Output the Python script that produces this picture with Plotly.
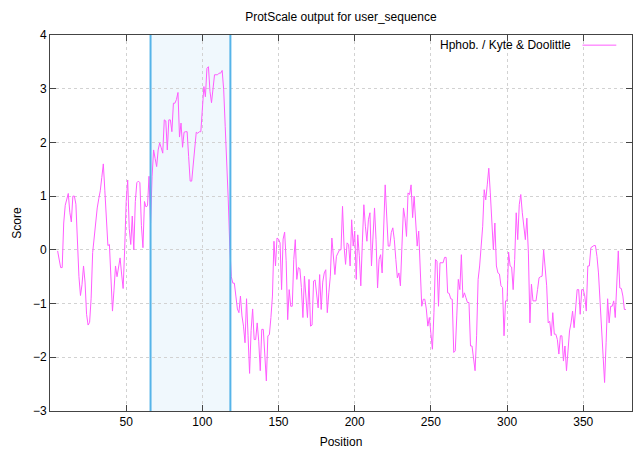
import plotly.graph_objects as go

# Data: Kyte & Doolittle hydrophobicity (window 9), positions 5..378
start_pos = 5
scores = [
    -0.02, -0.2, -0.33, -0.33, 0.5, 0.83, 0.95, 1.05, 0.7, 0.52,
    1.0, 1.0, 0.85, 0.0, -0.5, -0.85, -0.65, -0.3, -0.6, -1.2,
    -1.4, -1.35, -0.9, -0.05, 0.25, 0.5, 0.78, 0.95, 1.1, 1.35,
    1.6, 1.1, 0.6, 0.08, 0.1, -0.5, -1.14, -0.75, -0.3, -0.5,
    -0.35, -0.15, -0.45, -0.72, 0.0, 0.9, 1.3, 0.4, 0.1, 0.63,
    0.0, 0.9, 1.25, 1.28, 1.25, 0.45, 0.04, 0.9, 0.8, 0.82,
    1.37, 0.5, 1.37, 1.86, 1.7, 1.55, 1.86, 1.99, 1.9, 1.8,
    2.42, 2.4, 1.86, 2.42, 2.42, 2.2, 2.73, 2.73, 2.8, 2.93,
    2.1, 2.36, 1.91, 2.19, 2.2, 2.2, 1.74, 1.28, 1.28, 1.62,
    1.86, 2.19, 2.17, 2.2, 2.2, 2.73, 3.04, 2.85, 3.38, 3.41,
    2.95, 2.74, 2.98, 3.26, 3.26, 3.26, 3.29, 3.29, 3.34, 2.98,
    2.3, 1.68, 0.93, 0.07, -0.5, -0.62, -0.62, -0.86, -1.1, -1.17,
    -0.86, -1.23, -1.42, -1.73, -0.91, -1.6, -2.3, -1.5, -1.1, -1.67,
    -1.67, -1.36, -1.7, -2.25, -1.48, -1.48, -1.9, -2.44, -1.6, -1.58,
    -1.26, -0.86, 0.16, -0.3, 0.22, 0.2, 0.13, -0.74, 0.2, 0.33,
    -0.2, -1.3, -0.74, -1.05, -1.05, -0.18, 0.19, -0.55, -0.33, -0.35,
    -0.7, -1.26, -0.49, -0.9, -1.26, -0.55, -1.42, -1.4, -0.58, -0.56,
    -0.8, -1.08, -0.46, -1.11, -0.6, -0.43, -0.37, -1.17, -0.8, -0.49,
    0.22, -0.12, -0.46, -0.12, -0.05, 0.0, 0.0, 0.81, 0.07, -0.27,
    0.13, 0.1, -0.3, 0.56, 0.07, 0.35, -0.55, 0.28, -0.1, -0.67,
    0.13, 0.84, 0.44, 0.16, 0.56, 0.69, -0.3, 0.32, 0.78, 0.19,
    -0.71, -0.18, -0.09, -0.43, 0.25, 1.21, 0.63, 0.07, 0.07, 0.32,
    0.41, 0.19, -0.18, -0.52, -0.43, -0.67, 0.07, 0.78, 0.59, 0.25,
    1.06, 1.03, 1.21, 0.6, 1.0, 0.5, 0.07, 0.35, -0.24, -1.05,
    -0.92, -0.92, -1.1, -1.42, -1.26, -1.6, -1.85, -1.17, -0.18, -0.21,
    -1.05, -0.24, -0.24, -0.24, -0.14, -0.14, -0.8, -0.81, -0.91, -0.92,
    -1.91, -1.88, -1.23, -0.55, -0.74, -0.09, -0.89, -0.8, -0.89, -0.98,
    -0.98, -1.79, -1.79, -1.98, -2.25, -1.6, -0.55, -0.3, 0.0, 0.44,
    1.12, 0.93, 1.21, 1.52, 1.06, 0.5, 0.0, 0.5, -0.3, -0.43,
    -0.45, -0.67, -0.7, -1.6, -0.95, -0.95, -0.04, -0.3, -0.32, -0.74,
    -0.18, 0.69, 0.19, 0.84, 1.03, 0.69, 0.47, 0.19, 0.59, -0.06,
    -1.36, -0.64, -0.95, -0.95, -0.95, -0.74, -0.52, -0.5, -0.49, 0.0,
    -0.3, -0.67, -1.36, -1.33, -1.6, -1.17, -1.57, -1.57, -1.67, -1.94,
    -1.6, -1.6, -2.07, -1.79, -2.25, -1.76, -1.51, -1.36, -1.14, -1.45,
    -1.14, -0.74, -0.74, -1.2, -0.74, -0.74, -0.86, -1.14, -0.3, -0.3,
    0.04, 0.07, 0.08, 0.08, -0.12, -0.43, -0.92, -1.36, -1.91, -2.47,
    -1.73, -0.91, -1.36, -1.05, -1.05, -0.95, -1.26, -0.74, -0.02, -0.71,
    -0.72, -0.86, -1.11, -1.11,
]
positions = list(range(start_pos, start_pos + len(scores)))

region_start = 66
region_end = 118.4
x_range = [0, 382]
y_range = [-3, 4]
x_ticks = [50, 100, 150, 200, 250, 300, 350]
y_ticks = [-3, -2, -1, 0, 1, 2, 3, 4]

title_text = "ProtScale output for user_sequence"
series_name = "Hphob. / Kyte & Doolittle"
line_color = "#ff5cff"
region_line = "#56b4e9"
region_fill = "rgba(86,180,233,0.09)"
font_family = "Liberation Sans, Arial, sans-serif"

fig = go.Figure()
fig.add_trace(go.Scatter(
    x=positions, y=scores, mode="lines", name=series_name,
    line=dict(color=line_color, width=1), showlegend=False,
))

# highlighted region
fig.add_shape(type="rect", xref="x", yref="y", x0=region_start, x1=region_end,
              y0=y_range[0], y1=y_range[1], fillcolor=region_fill,
              line=dict(width=0), layer="below")
for xv in (region_start, region_end):
    fig.add_shape(type="line", xref="x", yref="y", x0=xv, x1=xv,
                  y0=y_range[0], y1=y_range[1],
                  line=dict(color=region_line, width=2), layer="above")

# legend (gnuplot style: text then line sample)
fig.add_annotation(xref="paper", yref="paper", x=0.898, y=0.973,
                   xanchor="right", yanchor="middle", showarrow=False,
                   text=series_name, font=dict(family=font_family, size=12, color="#000"))
fig.add_shape(type="line", xref="paper", yref="paper", x0=0.915, x1=0.973,
              y0=0.973, y1=0.973, line=dict(color=line_color, width=1))

axis_common = dict(
    showline=True, linecolor="#444", linewidth=1, mirror="ticks",
    ticks="inside", ticklen=6, tickcolor="#444",
    showgrid=True, gridcolor="#d2d2d2", griddash="dot", gridwidth=1,
    zeroline=False, tickfont=dict(family=font_family, size=12, color="#000"),
)
fig.update_xaxes(range=x_range, tickvals=x_ticks, title=dict(text="Position", standoff=9,
                 font=dict(family=font_family, size=12, color="#000")), **axis_common)
fig.update_yaxes(range=y_range, tickvals=y_ticks, title=dict(text="Score", standoff=8,
                 font=dict(family=font_family, size=12, color="#000")), **axis_common)

fig.update_layout(
    width=636, height=454,
    margin=dict(l=50, r=4, t=35, b=43),
    paper_bgcolor="white", plot_bgcolor="white",
    title=dict(text=title_text, x=0.536, xanchor="center", y=0.963, yanchor="middle",
               font=dict(family=font_family, size=12, color="#000")),
    font=dict(family=font_family),
)

fig.write_html("out.html")
